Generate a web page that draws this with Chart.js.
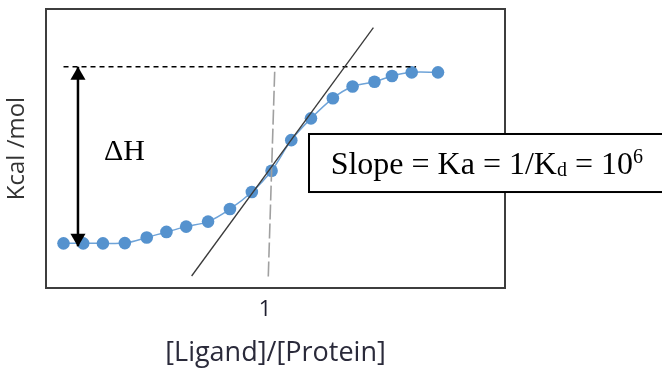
<!DOCTYPE html>
<html><head><meta charset="utf-8">
<script src="https://cdn.jsdelivr.net/npm/chart.js@4/dist/chart.umd.min.js"></script>
<style>html,body{margin:0;padding:0;background:#fff;}canvas{display:block}</style>
</head><body>
<canvas id="c" width="662" height="375"></canvas>
<script>
// ---- data ----
const ratioX = [0.08,0.17,0.26,0.36,0.46,0.55,0.64,0.74,0.84,0.94,1.03,1.12,1.21,1.31,1.40,1.50,1.58,1.67,1.79];
const heatY  = [1.60,1.60,1.60,1.61,1.81,2.01,2.20,2.38,2.83,3.44,4.20,5.30,6.08,6.80,7.22,7.39,7.60,7.73,7.73];
const tickValues = [1];
const tickLabels = ['1'];
const plateauX = [0.08, 1.69];
const plateauY = [7.93, 7.93];
const equivX = [1.015, 1.045];
const equivY = [0.41, 7.93];
const slopeX = [0.665, 1.495];
const slopeY = [0.43, 9.33];
const deltaHX = [0.146, 0.146];
const deltaHY = [7.93, 1.50];
const arrowHeadY = [7.62, 1.79];
const deltaHLabel = {x: 0.358, y: 4.87, text: 'ΔH'};
const boxX = 1.201;
const boxY = [5.52, 3.44];
const boxTextPos = {x: 1.30, y: 4.09};
const xTitle = '[Ligand]/[Protein]';
const yTitle = 'Kcal /mol';

const pts = (xs, ys) => xs.map((v, i) => ({x: v, y: ys[i]}));

const annot = {
  id: 'annot',
  beforeDatasetsDraw(chart) {
    const {ctx, chartArea: a} = chart;
    ctx.save();
    ctx.strokeStyle = '#3d3d3d'; ctx.lineWidth = 2;
    ctx.strokeRect(a.left, a.top, a.right - a.left, a.bottom - a.top);
    ctx.restore();
  },
  afterDatasetsDraw(chart) {
    const {ctx, scales: {x, y}} = chart;
    ctx.save();
    ctx.fillStyle = '#000';
    ctx.font = '30px "Liberation Serif"';
    ctx.textAlign = 'center'; ctx.textBaseline = 'middle';
    ctx.fillText(deltaHLabel.text, x.getPixelForValue(deltaHLabel.x), y.getPixelForValue(deltaHLabel.y));
    const bl = x.getPixelForValue(boxX), bt = y.getPixelForValue(boxY[0]), bb = y.getPixelForValue(boxY[1]);
    ctx.fillStyle = '#fff';
    ctx.fillRect(bl, bt, chart.width - bl + 10, bb - bt);
    ctx.strokeStyle = '#000'; ctx.lineWidth = 2;
    ctx.strokeRect(bl, bt, chart.width - bl + 10, bb - bt);
    let tx = x.getPixelForValue(boxTextPos.x);
    const by = y.getPixelForValue(boxTextPos.y);
    ctx.fillStyle = '#000'; ctx.textAlign = 'left'; ctx.textBaseline = 'alphabetic';
    const parts = [['Slope = Ka = 1/K', 32, 0], ['d', 20, 2], [' = 10', 32, 0], ['6', 20, -11]];
    for (const [t, s, dy] of parts) {
      ctx.font = s + 'px "Liberation Serif"';
      ctx.fillText(t, tx, by + dy);
      tx += ctx.measureText(t).width;
    }
    ctx.restore();
  }
};

new Chart(document.getElementById('c'), {
  type: 'line',
  data: {
    datasets: [
      {data: pts(slopeX, slopeY), borderColor: '#3a3a3a', borderWidth: 1.3, pointRadius: 0, tension: 0},
      {data: pts(deltaHX, deltaHY), borderColor: '#000', borderWidth: 2.5, pointRadius: 0, tension: 0},
      {data: pts(deltaHX, arrowHeadY), showLine: false, pointStyle: 'triangle', pointRadius: 8.7,
       pointRotation: [0, 180], pointBackgroundColor: '#000', pointBorderWidth: 0, borderColor: '#000'},
      {data: pts(plateauX, plateauY), borderColor: '#000', borderWidth: 1.6, borderDash: [5, 4], pointRadius: 0, tension: 0},
      {data: pts(equivX, equivY), borderColor: '#a0a0a0', borderWidth: 1.6, borderDash: [15, 4], pointRadius: 0, tension: 0},
      {data: pts(ratioX, heatY), borderColor: '#6ea3d8', borderWidth: 1.5, tension: 0.3,
       pointRadius: 6.3, pointBackgroundColor: '#5592CE', pointBorderColor: '#5592CE', pointBorderWidth: 0}
    ]
  },
  options: {
    responsive: false,
    animation: false,
    devicePixelRatio: 1,
    layout: {padding: {left: 0, top: 9, right: 157, bottom: 0}},
    plugins: {legend: {display: false}, tooltip: {enabled: false}},
    scales: {
      x: {
        type: 'linear', min: 0, max: 2.096,
        grid: {display: false, drawTicks: false},
        border: {display: false},
        afterBuildTicks: s => { s.ticks = tickValues.map(v => ({value: v})); },
        ticks: {autoSkip: false, maxRotation: 0, padding: 9, color: '#1e1e2e',
                font: {family: 'Open Sans', size: 22},
                callback: v => { const i = tickValues.indexOf(v); return i >= 0 ? tickLabels[i] : ''; }},
        title: {display: true, text: xTitle, color: '#2a2a3a', font: {family: 'Open Sans', size: 27},
                padding: {top: 0, bottom: 5}},
        afterFit: s => { s.height = 87; }
      },
      y: {
        type: 'linear', min: 0, max: 10,
        grid: {display: false, drawTicks: false},
        border: {display: false},
        ticks: {display: false},
        title: {display: true, text: yTitle, color: '#333', font: {family: 'Open Sans', size: 24},
                padding: {top: 3, bottom: 0}},
        afterFit: s => { s.width = 46; }
      }
    }
  },
  plugins: [annot]
});
</script>
</body></html>
